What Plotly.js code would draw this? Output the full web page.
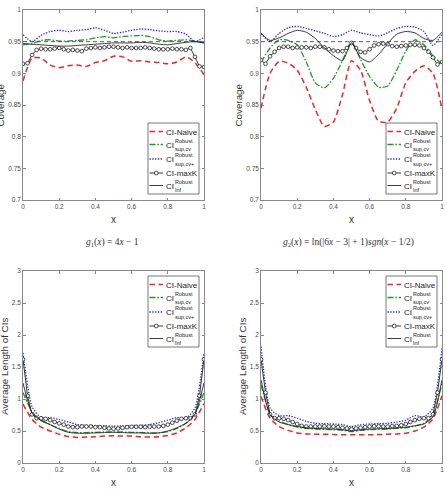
<!DOCTYPE html>
<html>
<head>
<meta charset="utf-8">
<script src="https://cdn.plot.ly/plotly-3.0.1.min.js"></script>
<style>
  html, body { margin: 0; padding: 0; background: #ffffff; }
  #chart { width: 447px; height: 490px; }
</style>
</head>
<body>
<div id="chart"></div>
<script>
// Evaluation grids
const xCoarse = [0, 0.05, 0.1, 0.15, 0.2, 0.25, 0.3, 0.35, 0.4, 0.45, 0.5,
                 0.55, 0.6, 0.65, 0.7, 0.75, 0.8, 0.85, 0.9, 0.95, 1];
const xFine = [0, 0.025, 0.05, 0.075, 0.1, 0.125, 0.15, 0.175, 0.2, 0.225, 0.25,
               0.275, 0.3, 0.325, 0.35, 0.375, 0.4, 0.425, 0.45, 0.475, 0.5,
               0.525, 0.55, 0.575, 0.6, 0.625, 0.65, 0.675, 0.7, 0.725, 0.75,
               0.775, 0.8, 0.825, 0.85, 0.875, 0.9, 0.925, 0.95, 0.975, 1];

const nominalLevel = 0.95;

// Coverage, g1(x) = 4x - 1
const naiveCovG1     = [0.888, 0.924, 0.924, 0.913, 0.909, 0.912, 0.913, 0.911, 0.917, 0.920, 0.927,
                        0.926, 0.919, 0.920, 0.918, 0.917, 0.915, 0.918, 0.926, 0.917, 0.898];
const supCvCovG1     = [0.945, 0.947, 0.952, 0.953, 0.951, 0.951, 0.952, 0.953, 0.956, 0.958, 0.956,
                        0.958, 0.959, 0.960, 0.958, 0.953, 0.951, 0.952, 0.953, 0.951, 0.948];
const supCvPlusCovG1 = [0.961, 0.950, 0.960, 0.966, 0.968, 0.966, 0.968, 0.969, 0.972, 0.968, 0.963,
                        0.965, 0.968, 0.970, 0.969, 0.967, 0.966, 0.966, 0.962, 0.950, 0.957];
const infCovG1       = [0.947, 0.946, 0.945, 0.944, 0.943, 0.943, 0.944, 0.945, 0.946, 0.947, 0.948,
                        0.948, 0.948, 0.949, 0.948, 0.946, 0.945, 0.947, 0.949, 0.950, 0.948];
const maxKCovG1      = [0.915, 0.916, 0.929, 0.937, 0.939, 0.938, 0.938, 0.939, 0.940, 0.938,
                        0.936, 0.937, 0.936, 0.935, 0.939, 0.940, 0.941, 0.940, 0.941, 0.942,
                        0.942,
                        0.941, 0.940, 0.941, 0.940, 0.940, 0.940, 0.941, 0.940, 0.939, 0.938,
                        0.938, 0.938, 0.939, 0.938, 0.938, 0.937, 0.940, 0.926, 0.911, 0.910];

// Coverage, g2(x) = ln(|6x - 3| + 1) sgn(x - 1/2)
const naiveCovG2     = [0.845, 0.900, 0.919, 0.916, 0.905, 0.878, 0.843, 0.816, 0.823, 0.866, 0.920,
                        0.905, 0.857, 0.824, 0.823, 0.845, 0.885, 0.903, 0.912, 0.900, 0.843];
const supCvCovG2     = [0.918, 0.940, 0.953, 0.952, 0.945, 0.918, 0.885, 0.877, 0.892, 0.920, 0.950,
                        0.922, 0.895, 0.878, 0.880, 0.905, 0.935, 0.953, 0.945, 0.928, 0.914];
const supCvPlusCovG2 = [0.963, 0.950, 0.963, 0.972, 0.974, 0.971, 0.967, 0.963, 0.958, 0.961, 0.968,
                        0.964, 0.961, 0.959, 0.964, 0.971, 0.974, 0.973, 0.966, 0.944, 0.962];
const infCovG2       = [0.963, 0.952, 0.956, 0.963, 0.968, 0.965, 0.955, 0.940, 0.928, 0.920, 0.948,
                        0.925, 0.918, 0.930, 0.947, 0.962, 0.966, 0.964, 0.955, 0.952, 0.965];
const maxKCovG2      = [0.921, 0.915, 0.927, 0.934, 0.940, 0.942, 0.942, 0.940, 0.941, 0.941,
                        0.941, 0.940, 0.942, 0.942, 0.941, 0.938, 0.936, 0.935, 0.935, 0.940,
                        0.948,
                        0.940, 0.934, 0.933, 0.938, 0.944, 0.946, 0.947, 0.946, 0.943, 0.942,
                        0.943, 0.944, 0.945, 0.945, 0.944, 0.940, 0.934, 0.925, 0.914, 0.918];

// Average length of CIs, g1
const naiveLenG1     = [0.92, 0.68, 0.56, 0.50, 0.45, 0.415, 0.40, 0.405, 0.41, 0.42, 0.425,
                        0.42, 0.42, 0.41, 0.405, 0.41, 0.43, 0.47, 0.55, 0.68, 0.93];
const supCvLenG1     = [1.10, 0.80, 0.67, 0.60, 0.54, 0.49, 0.475, 0.475, 0.48, 0.485, 0.485,
                        0.485, 0.48, 0.475, 0.47, 0.47, 0.49, 0.54, 0.62, 0.77, 1.10];
const supCvPlusLenG1 = [1.72, 0.88, 0.71, 0.71, 0.68, 0.64, 0.60, 0.59, 0.585, 0.58, 0.575,
                        0.58, 0.585, 0.59, 0.60, 0.63, 0.67, 0.71, 0.70, 0.86, 1.72];
const infLenG1       = [1.25, 0.78, 0.66, 0.60, 0.53, 0.48, 0.465, 0.465, 0.47, 0.475, 0.48,
                        0.475, 0.47, 0.47, 0.465, 0.47, 0.50, 0.55, 0.62, 0.76, 1.25];
const maxKLenG1      = [1.62, 1.05, 0.76, 0.70, 0.70, 0.69, 0.67, 0.64, 0.62, 0.60,
                        0.57, 0.56, 0.56, 0.57, 0.57, 0.57, 0.56, 0.56, 0.55, 0.54,
                        0.535,
                        0.54, 0.55, 0.56, 0.565, 0.565, 0.565, 0.56, 0.565, 0.57, 0.57,
                        0.58, 0.60, 0.63, 0.66, 0.69, 0.70, 0.70, 0.76, 1.05, 1.62];

// Average length of CIs, g2
const naiveLenG2     = [1.04, 0.70, 0.57, 0.51, 0.47, 0.455, 0.45, 0.45, 0.445, 0.44, 0.44,
                        0.44, 0.44, 0.445, 0.45, 0.455, 0.465, 0.50, 0.56, 0.69, 1.05];
const supCvLenG2     = [1.22, 0.78, 0.66, 0.60, 0.56, 0.54, 0.53, 0.525, 0.52, 0.51, 0.49,
                        0.51, 0.52, 0.525, 0.53, 0.54, 0.55, 0.58, 0.62, 0.75, 1.25];
const supCvPlusLenG2 = [1.82, 0.86, 0.74, 0.74, 0.70, 0.65, 0.62, 0.615, 0.61, 0.60, 0.57,
                        0.60, 0.61, 0.615, 0.62, 0.64, 0.67, 0.74, 0.72, 0.86, 1.80];
const infLenG2       = [1.30, 0.75, 0.64, 0.60, 0.57, 0.55, 0.54, 0.535, 0.53, 0.52, 0.50,
                        0.52, 0.53, 0.535, 0.54, 0.55, 0.56, 0.58, 0.61, 0.72, 1.30];
const maxKLenG2      = [1.62, 1.10, 0.76, 0.70, 0.70, 0.69, 0.67, 0.64, 0.61, 0.58,
                        0.57, 0.57, 0.57, 0.57, 0.575, 0.57, 0.57, 0.56, 0.55, 0.54,
                        0.53,
                        0.54, 0.55, 0.56, 0.57, 0.575, 0.575, 0.57, 0.57, 0.575, 0.58,
                        0.59, 0.61, 0.64, 0.67, 0.69, 0.70, 0.70, 0.76, 1.10, 1.62];

// Tick labels
const xTickVals = [0, 0.2, 0.4, 0.6, 0.8, 1];
const xTickText = ['0', '0.2', '0.4', '0.6', '0.8', '1'];
const covTickVals = [0.7, 0.75, 0.8, 0.85, 0.9, 0.95, 1];
const covTickText = ['0.7', '0.75', '0.8', '0.85', '0.9', '0.95', '1'];
const lenTickVals = [0, 0.5, 1, 1.5, 2, 2.5, 3];
const lenTickText = ['0', '0.5', '1', '1.5', '2', '2.5', '3'];

// Legend entries
const legendEntries = [
  { key: 'naive',     main: 'CI-Naive' },
  { key: 'supcv',     main: 'CI', sup: 'Robust', sub: 'sup,cv' },
  { key: 'supcvPlus', main: 'CI', sup: 'Robust', sub: 'sup,cv+' },
  { key: 'maxK',      main: 'CI-maxK' },
  { key: 'inf',       main: 'CI', sup: 'Robust', sub: 'Inf' }
];

const subtitleG1 = '<i>g</i><sub>1</sub>(<i>x</i>) = 4<i>x</i> − 1';
const subtitleG2 = '<i>g</i><sub>2</sub>(<i>x</i>) = ln(|6<i>x</i> − 3| + 1)<i>sgn</i>(<i>x</i> − 1/2)';

// ---- styles ----
const FONT = 'Liberation Sans, Arial, Helvetica, sans-serif';
const SERIF = 'Liberation Serif, Times New Roman, serif';
const styles = {
  naive:     { color: '#e62a2a', width: 1.5, dash: '5.5px,3.5px' },
  supcv:     { color: '#1e9a1e', width: 1.3, dash: '6px,1.8px,1.6px,1.8px' },
  supcvPlus: { color: '#2222e8', width: 1.3, dash: '1.3px,1.5px' },
  maxK:      { color: '#222222', width: 0.9, dash: 'solid' },
  inf:       { color: '#222222', width: 0.9, dash: 'solid' }
};
const axisColor = '#6a6a6a';

const panels = [
  { kind: 'cov', naive: naiveCovG1, supcv: supCvCovG1, supcvPlus: supCvPlusCovG1, maxK: maxKCovG1, inf: infCovG1,
    xd: [23, 204], yd: [10, 200] },
  { kind: 'cov', naive: naiveCovG2, supcv: supCvCovG2, supcvPlus: supCvPlusCovG2, maxK: maxKCovG2, inf: infCovG2,
    xd: [261, 442], yd: [10, 200] },
  { kind: 'len', naive: naiveLenG1, supcv: supCvLenG1, supcvPlus: supCvPlusLenG1, maxK: maxKLenG1, inf: infLenG1,
    xd: [23, 204], yd: [271, 463] },
  { kind: 'len', naive: naiveLenG2, supcv: supCvLenG2, supcvPlus: supCvPlusLenG2, maxK: maxKLenG2, inf: infLenG2,
    xd: [261, 442], yd: [271, 463] }
];

const W = 447, H = 490;
const traces = [];
const shapes = [];
const annotations = [];
const layout = {
  width: W, height: H,
  margin: { l: 0, r: 0, t: 0, b: 0 },
  paper_bgcolor: '#ffffff',
  plot_bgcolor: '#ffffff',
  showlegend: false,
  font: { family: FONT, color: '#333333' }
};

panels.forEach((p, i) => {
  const n = i === 0 ? '' : String(i + 1);
  const xa = 'x' + n, ya = 'y' + n;
  const isCov = p.kind === 'cov';

  const lineOf = (k) => ({ color: styles[k].color, width: styles[k].width, dash: styles[k].dash, shape: 'spline', smoothing: 0.6 });

  traces.push({ x: xCoarse, y: p.naive, xaxis: xa, yaxis: ya, mode: 'lines', line: lineOf('naive'), name: 'CI-Naive' });
  traces.push({ x: xCoarse, y: p.supcv, xaxis: xa, yaxis: ya, mode: 'lines', line: lineOf('supcv'), name: 'sup,cv' });
  traces.push({ x: xCoarse, y: p.supcvPlus, xaxis: xa, yaxis: ya, mode: 'lines', line: lineOf('supcvPlus'), name: 'sup,cv+' });
  traces.push({ x: xFine, y: p.maxK, xaxis: xa, yaxis: ya, mode: 'lines+markers',
    line: { color: styles.maxK.color, width: styles.maxK.width },
    marker: { symbol: 'circle', size: 3.7, color: '#ffffff', line: { color: '#222222', width: 0.8 } },
    name: 'CI-maxK' });
  traces.push({ x: xCoarse, y: p.inf, xaxis: xa, yaxis: ya, mode: 'lines', line: lineOf('inf'), name: 'Inf' });
  if (isCov) {
    traces.push({ x: [0, 1], y: [nominalLevel, nominalLevel], xaxis: xa, yaxis: ya, mode: 'lines',
      line: { color: '#333333', width: 0.8, dash: '4px,3px' }, name: 'nominal' });
  }

  const axCommon = {
    showline: true, linecolor: axisColor, linewidth: 0.8, mirror: 'ticks',
    ticks: 'inside', ticklen: 2.5, tickwidth: 0.8, tickcolor: axisColor,
    showgrid: false, zeroline: false, fixedrange: true,
    tickfont: { family: FONT, size: 6.5, color: '#4a4a4a' }
  };
  layout['xaxis' + n] = Object.assign({}, axCommon, {
    domain: [p.xd[0] / W, p.xd[1] / W], anchor: ya, range: [0, 1],
    tickmode: 'array', tickvals: xTickVals, ticktext: xTickText
  });
  layout['yaxis' + n] = Object.assign({}, axCommon, {
    domain: [1 - p.yd[1] / H, 1 - p.yd[0] / H], anchor: xa,
    range: isCov ? [0.7, 1] : [0, 3],
    tickmode: 'array',
    tickvals: isCov ? covTickVals : lenTickVals,
    ticktext: isCov ? covTickText : lenTickText
  });

  // pixel offsets inside the plot area -> domain fractions
  const aw = p.xd[1] - p.xd[0], ah = p.yd[1] - p.yd[0];
  const dx = (px) => px / aw;
  const dy = (py) => 1 - py / ah;
  const xr = xa + ' domain', yr = ya + ' domain';

  // axis titles
  annotations.push({ xref: xr, yref: yr, x: 0.5, y: dy(ah + 19), text: 'x', showarrow: false,
    xanchor: 'center', yanchor: 'middle', font: { family: FONT, size: 10, color: '#333333' } });
  annotations.push({ xref: xr, yref: yr, x: dx(isCov ? -23.5 : -19), y: 0.5,
    text: isCov ? 'Coverage' : 'Average Length of CIs', textangle: -90, showarrow: false,
    xanchor: 'center', yanchor: 'middle', font: { family: FONT, size: 9.8, color: '#333333' } });

  // legend box
  const bx = 125, bw = 51, bh = 71;
  const by = isCov ? 113 : 5;
  shapes.push({ type: 'rect', xref: xr, yref: yr, x0: dx(bx), x1: dx(bx + bw), y0: dy(by), y1: dy(by + bh),
    line: { color: '#555555', width: 0.8 }, fillcolor: '#ffffff', layer: 'above' });
  const rowOffsets = [8.5, 21.5, 36, 50, 62.5];
  legendEntries.forEach((e, j) => {
    const ry = by + rowOffsets[j];
    const st = styles[e.key];
    shapes.push({ type: 'line', xref: xr, yref: yr, x0: dx(bx + 1.5), x1: dx(bx + 15), y0: dy(ry), y1: dy(ry),
      line: { color: st.color, width: st.width, dash: st.dash }, layer: 'above' });
    if (e.key === 'maxK') {
      shapes.push({ type: 'circle', xref: xr, yref: yr, xsizemode: 'pixel', ysizemode: 'pixel',
        xanchor: dx(bx + 8.2), yanchor: dy(ry), x0: -1.9, x1: 1.9, y0: -1.9, y1: 1.9,
        line: { color: '#222222', width: 0.8 }, fillcolor: '#ffffff', layer: 'above' });
    }
    annotations.push({ xref: xr, yref: yr, x: dx(bx + 16.5), y: dy(ry + 0.8), text: e.main, showarrow: false,
      xanchor: 'left', yanchor: 'middle', borderpad: 0,
      font: { family: FONT, size: 8, color: '#222222' } });
    if (e.sup) {
      annotations.push({ xref: xr, yref: yr, x: dx(bx + 25.5), y: dy(ry - 3.8), text: e.sup, showarrow: false,
        xanchor: 'left', yanchor: 'middle', borderpad: 0,
        font: { family: FONT, size: 5.5, color: '#222222' } });
      annotations.push({ xref: xr, yref: yr, x: dx(bx + 25.5), y: dy(ry + 4.8), text: e.sub, showarrow: false,
        xanchor: 'left', yanchor: 'middle', borderpad: 0,
        font: { family: FONT, size: 5.5, color: '#222222' } });
    }
  });
});

// captions under the coverage panels
annotations.push({ xref: 'paper', yref: 'paper', x: 112 / W, y: 1 - 243 / H, text: subtitleG1, showarrow: false,
  xanchor: 'center', yanchor: 'middle', font: { family: SERIF, size: 9.5, color: '#333333' } });
annotations.push({ xref: 'paper', yref: 'paper', x: 348 / W, y: 1 - 243 / H, text: subtitleG2, showarrow: false,
  xanchor: 'center', yanchor: 'middle', font: { family: SERIF, size: 9.5, color: '#333333' } });

layout.shapes = shapes;
layout.annotations = annotations;

Plotly.newPlot('chart', traces, layout, { staticPlot: true, displayModeBar: false });
</script>
</body>
</html>
